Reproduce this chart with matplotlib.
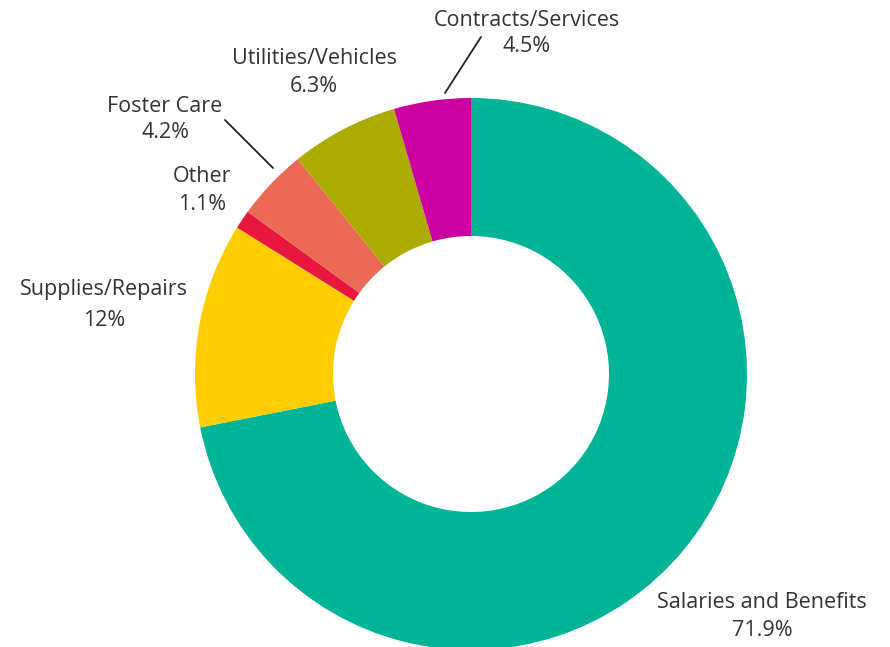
import matplotlib
matplotlib.use("Agg")
import matplotlib.pyplot as plt

# spending breakdown, clockwise from the top
categories = ["Salaries and Benefits", "Supplies/Repairs", "Other",
              "Foster Care", "Utilities/Vehicles", "Contracts/Services"]
shares = [71.9, 12, 1.1, 4.2, 6.3, 4.5]
share_labels = ["71.9%", "12%", "1.1%", "4.2%", "6.3%", "4.5%"]
colors = ["#00b496", "#fdcd00", "#e8173f", "#ec6a55", "#abab00", "#cc00a0"]

plt.rcParams['font.family'] = ['Open Sans', 'DejaVu Sans']

W, H = 890, 647
cx, cy, R = 471, 374, 276   # donut centre and radius in pixels

fig = plt.figure(figsize=(W / 100, H / 100), dpi=100)
ax = fig.add_axes([(cx - R) / W, (H - cy - R) / H, 2 * R / W, 2 * R / H])

ax.pie(shares, colors=colors, startangle=90, counterclock=False, radius=1,
       wedgeprops=dict(width=0.5, linewidth=0))
# pie resets the limits, so set them afterwards
ax.set_xlim(-1, 1)
ax.set_ylim(-1, 1)
ax.axis('off')


def px(x, y):
    # pixel position -> data coords
    return ((x - cx) / R, (cy - y) / R)


# label centres (pixels) for the two text lines
label_pos = {
    "Salaries and Benefits": (762, 602, 630),
    "Supplies/Repairs": (104, 289, 321),
    "Other": (202, 177, 204),
    "Foster Care": (165, 106, 132),
    "Utilities/Vehicles": (314, 58, 87),
    "Contracts/Services": (527, 20, 47),
}

for name, val in zip(categories, share_labels):
    x, y1, y2 = label_pos[name]
    ax.text(*px(x, y1), name, ha='center', va='center', fontsize=15.5,
            color='#333333', clip_on=False)
    ax.text(*px(x, y2), val, ha='center', va='center', fontsize=15.5,
            color='#333333', clip_on=False)

# leader lines
ax.annotate("", xy=px(445, 93), xytext=px(481, 37), annotation_clip=False,
            arrowprops=dict(arrowstyle='-', color='#222222', lw=1.3,
                            shrinkA=0, shrinkB=0))
ax.annotate("", xy=px(273, 168), xytext=px(225, 120), annotation_clip=False,
            arrowprops=dict(arrowstyle='-', color='#222222', lw=1.3,
                            shrinkA=0, shrinkB=0))

fig.savefig("out.png", dpi=100)
